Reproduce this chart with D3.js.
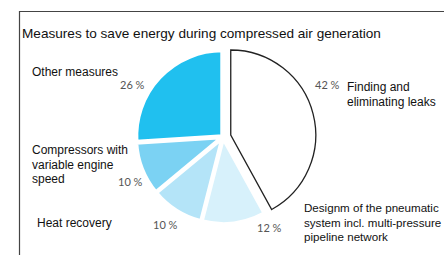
<!DOCTYPE html>
<html><head><meta charset="utf-8">
<script src="https://cdn.jsdelivr.net/npm/d3@7"></script>
<style>body{margin:0;background:#fff}svg{display:block}</style>
</head><body>
<svg id="c" width="444" height="255"></svg>
<script>
const title = "Measures to save energy during compressed air generation";
const categories = ["Finding and eliminating leaks","Designm of the pneumatic system incl. multi-pressure pipeline network","Heat recovery","Compressors with variable engine speed","Other measures"];
const values = [42, 12, 10, 10, 26];
const pctLabels = ["42 %","12 %","10 %","10 %","26 %"];
const nameLines = [["Finding and","eliminating leaks"],["Designm of the pneumatic","system incl. multi-pressure","pipeline network"],["Heat recovery"],["Compressors with","variable engine","speed"],["Other measures"]];
const colors = ["#ffffff","#d7f1fb","#b4e4f8","#7bd2f3","#20c0ef"];

const svg = d3.select("#c");
// frame
svg.append("path").attr("d","M19.5,255 V11.5 H444").attr("fill","none").attr("stroke","#444").attr("stroke-width",1.2);
svg.append("text").attr("x",22).attr("y",38).text(title)
  .attr("font-family","Liberation Sans, Arial, sans-serif").attr("font-size",13.6).attr("fill","#111");

const cx=223, cy=137, r=86;
const pie = d3.pie().sort(null).value(d=>d);
const arcs = pie(values);
const arc = d3.arc().innerRadius(0).outerRadius(r);
const g = svg.append("g").attr("transform",`translate(${cx},${cy})`);
arcs.forEach((a,i)=>{
  const mid=(a.startAngle+a.endAngle)/2;
  const off = i===0?8:1;
  const dx=off*Math.sin(mid), dy=-off*Math.cos(mid);
  if(i===0){
    const ai = d3.arc().innerRadius(0).outerRadius(r-1);
    g.append("path").attr("d",ai(a)).attr("transform",`translate(${dx},${dy})`)
      .attr("fill",colors[i]).attr("stroke","#222").attr("stroke-width",1.3).attr("stroke-linejoin","miter");
  } else {
    g.append("path").attr("d",arc(a)).attr("transform",`translate(${dx},${dy})`)
      .attr("fill",colors[i]).attr("stroke","#fff").attr("stroke-width",4).attr("stroke-linejoin","round");
  }
});

// labels
const pctPos = [[315,89],[257,232],[153,229],[118,186],[120,89]];
pctLabels.forEach((t,i)=>{
  svg.append("text").attr("x",pctPos[i][0]).attr("y",pctPos[i][1]).text(t)
    .attr("font-family","Lato, Carlito, sans-serif").attr("font-size",11).attr("fill","#555");
});
const namePos = [[347,91],[304,212],[37,227],[32,154],[32,76]];
const nameSize = [12,11.6,12,12,12];
nameLines.forEach((lines,i)=>{
  const t = svg.append("text").attr("font-family","Liberation Sans, Arial, sans-serif").attr("font-size",nameSize[i]).attr("fill","#111");
  lines.forEach((l,j)=>t.append("tspan").attr("x",namePos[i][0]).attr("y",namePos[i][1]+j*14.5).text(l));
});
</script>
</body></html>
